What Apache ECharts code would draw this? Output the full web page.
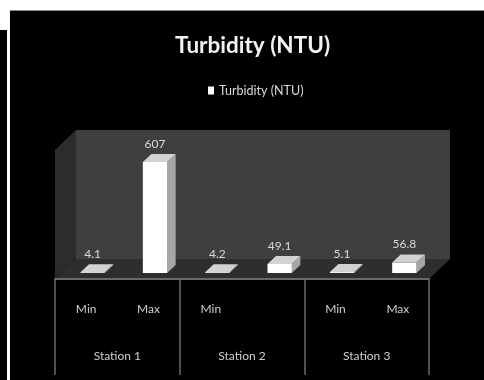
<!DOCTYPE html>
<html>
<head>
<meta charset="utf-8">
<style>
  html, body { margin: 0; padding: 0; background: #fff; }
  #chart { width: 484px; height: 380px; }
</style>
<script src="https://cdn.jsdelivr.net/npm/echarts@6/dist/echarts.min.js"></script>
</head>
<body>
<div id="chart"></div>
<script>
const seriesName = 'Turbidity (NTU)';
const readingLabels = ['Min', 'Max', 'Min', '', 'Min', 'Max'];
const stationLabels = ['Station 1', 'Station 2', 'Station 3'];
const turbidityValues = [4.1, 607, 4.2, 49.1, 5.1, 56.8];

const fontFamily = 'Lato, "Open Sans", sans-serif';
const depthX = 8.5, depthY = 8, floorShift = 6.5, barRatio = 0.39;

// Extruded column: front face, side face, top face and its value above.
function renderColumn(params, api) {
  const idx = api.value(0), val = api.value(1);
  const base = api.coord([idx, 0]);
  const top = api.coord([idx, val]);
  const w = api.size([1, 0])[0] * barRatio;
  const x0 = base[0] + floorShift - w / 2, x1 = x0 + w;
  const y0 = base[1], y1 = top[1];
  const poly = (points, fill) => ({ type: 'polygon', shape: { points }, style: { fill } });
  return {
    type: 'group',
    children: [
      poly([[x1, y0], [x1 + depthX, y0 - depthY], [x1 + depthX, y1 - depthY], [x1, y1]], '#a6a6a6'),
      poly([[x0, y1], [x1, y1], [x1 + depthX, y1 - depthY], [x0 + depthX, y1 - depthY]], '#d2d2d2'),
      poly([[x0, y0], [x1, y0], [x1, y1], [x0, y1]], '#ffffff'),
      {
        type: 'text',
        style: {
          x: (x0 + x1) / 2, y: y1 - depthY - 10,
          text: String(val), fill: '#d9d9d9',
          font: '12px ' + fontFamily,
          align: 'center', verticalAlign: 'middle'
        }
      }
    ]
  };
}

const rect = (x, y, width, height, fill) => ({ type: 'rect', shape: { x, y, width, height }, style: { fill }, silent: true });
const wall = (points, fill) => ({ type: 'polygon', shape: { points }, style: { fill }, silent: true });

const chart = echarts.init(document.getElementById('chart'), null, { renderer: 'canvas' });
chart.setOption({
  animation: false,
  backgroundColor: '#ffffff',
  textStyle: { fontFamily },
  title: {
    text: seriesName, left: 170, top: 29,
    textStyle: { color: '#f2f2f2', fontSize: 22.5, fontWeight: 'bold', fontFamily }
  },
  legend: {
    data: [seriesName], left: 203, top: 79,
    icon: 'rect', itemWidth: 6, itemHeight: 8, itemGap: 4,
    textStyle: { color: '#d9d9d9', fontSize: 12.5, fontFamily }
  },
  graphic: {
    elements: [
      rect(0, 30, 7, 350, '#000000'),
      rect(7, 30, 3, 350, '#ffffff'),
      rect(10, 10, 474, 370, '#000000'),
      rect(10, 10, 474, 1, '#8a8a8a'),
      wall([[76, 130], [450, 130], [450, 259], [76, 259]], '#3f3f3f'),
      wall([[55, 150], [76, 130], [76, 259], [55, 279]], '#2c2c2c'),
      wall([[55, 279], [76, 259], [450, 259], [429, 279]], '#2e2e2e')
    ]
  },
  grid: { left: 55, right: 55, top: 145, bottom: 107 },
  xAxis: [
    {
      type: 'category', data: readingLabels, position: 'bottom', offset: 6,
      axisLine: { show: true, onZero: false, lineStyle: { color: '#6a6a6a', width: 2 } },
      axisTick: { show: false },
      axisLabel: { interval: 0, margin: 24, color: '#cfcfcf', fontSize: 12, fontFamily }
    },
    {
      type: 'category', data: stationLabels, position: 'bottom', offset: 6,
      axisLine: { show: false, onZero: false },
      axisTick: { show: true, length: 96, lineStyle: { color: '#6a6a6a', width: 1.5 } },
      axisLabel: { interval: 0, margin: 71, color: '#cfcfcf', fontSize: 12, fontFamily }
    }
  ],
  yAxis: { type: 'value', min: 0, max: 700, show: false },
  series: [{
    name: seriesName,
    type: 'custom',
    xAxisIndex: 0,
    itemStyle: { color: '#ffffff' },
    encode: { x: 0, y: 1 },
    data: turbidityValues.map((v, i) => [i, v]),
    renderItem: renderColumn,
    clip: false
  }]
});
</script>
</body>
</html>
